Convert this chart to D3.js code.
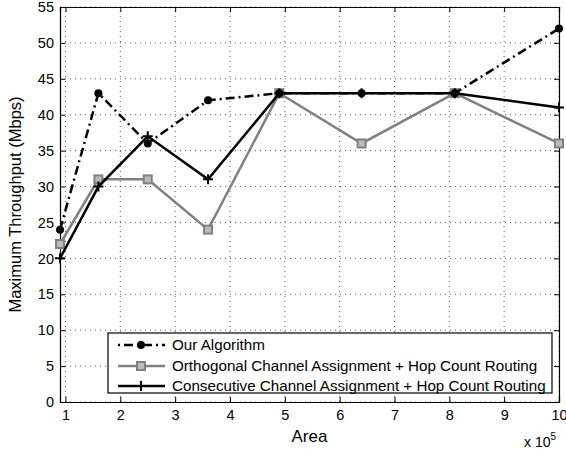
<!DOCTYPE html>
<html>
<head>
<meta charset="utf-8">
<script src="https://cdn.jsdelivr.net/npm/d3@7"></script>
<style>
  body { margin: 0; background: #fff; }
  text { font-family: "Liberation Sans", Arial, sans-serif; }
</style>
</head>
<body>
<div id="chart"></div>
<script>
// area values (x 10^5)
var areas = [0.9, 1.6, 2.5, 3.6, 4.9, 6.4, 8.1, 10];
var ourAlgorithm = [24, 43, 36, 42, 43, 43, 43, 52];
var orthogonal = [22, 31, 31, 24, 43, 36, 43, 36];
var consecutive = [20, 30, 37, 31, 43, 43, 43, 41];
var xTicks = [1, 2, 3, 4, 5, 6, 7, 8, 9, 10];
var yTicks = [0, 5, 10, 15, 20, 25, 30, 35, 40, 45, 50, 55];
var seriesNames = ["Our Algorithm",
    "Orthogonal Channel Assignment + Hop Count Routing",
    "Consecutive Channel Assignment + Hop Count Routing"];

var width = 566, height = 455;
var margin = {top: 7, left: 60, right: 7, bottom: 53};

var svg = d3.select("#chart").append("svg")
    .attr("width", width)
    .attr("height", height);

var x = d3.scaleLinear().domain([0.9, 10]).range([margin.left, width - margin.right]);
var y = d3.scaleLinear().domain([0, 55]).range([height - margin.bottom, margin.top]);

var x0 = x.range()[0], x1 = x.range()[1], y0 = y.range()[0], y1 = y.range()[1];

// dotted grid
var grid = svg.append("g");
grid.selectAll(".vg").data(xTicks).enter().append("line")
    .attr("x1", d => x(d)).attr("x2", d => x(d))
    .attr("y1", y0).attr("y2", y1)
    .style("stroke", "#333").style("stroke-width", 0.8)
    .style("stroke-dasharray", "1,4");
grid.selectAll(".hg").data(yTicks).enter().append("line")
    .attr("x1", x0).attr("x2", x1)
    .attr("y1", d => y(d)).attr("y2", d => y(d))
    .style("stroke", "#333").style("stroke-width", 0.8)
    .style("stroke-dasharray", "1,4");

// axes (ticks inward, on all four sides)
var tickLen = 5;
svg.append("g").attr("transform", "translate(0," + y0 + ")")
    .call(d3.axisBottom(x).tickValues(xTicks).tickSize(-tickLen).tickPadding(8).tickFormat(d3.format("d")));
svg.append("g").attr("transform", "translate(0," + y1 + ")")
    .call(d3.axisTop(x).tickValues(xTicks).tickSize(-tickLen).tickFormat(""));
svg.append("g").attr("transform", "translate(" + x0 + ",0)")
    .call(d3.axisLeft(y).tickValues(yTicks).tickSize(-tickLen).tickPadding(6));
svg.append("g").attr("transform", "translate(" + x1 + ",0)")
    .call(d3.axisRight(y).tickValues(yTicks).tickSize(-tickLen).tickFormat(""));

svg.selectAll(".domain").style("stroke", "#000").style("stroke-width", 1.2);
svg.selectAll(".tick line").style("stroke", "#000");
svg.selectAll(".tick text").style("font-size", "14.5px").style("fill", "#000")
    .style("font-family", "'Liberation Sans', Arial, sans-serif");

// series
var line = d3.line().x(d => x(d[0])).y(d => y(d[1]));
function pts(vals) { return areas.map((a, i) => [a, vals[i]]); }

var gData = svg.append("g");

// gray orthogonal
gData.append("path").datum(pts(orthogonal)).attr("d", line)
    .style("fill", "none").style("stroke", "#808080").style("stroke-width", 2.5);
gData.selectAll(".sq").data(pts(orthogonal)).enter().append("rect")
    .attr("x", d => x(d[0]) - 4).attr("y", d => y(d[1]) - 4)
    .attr("width", 8).attr("height", 8)
    .style("fill", "#bbb").style("stroke", "#808080").style("stroke-width", 2);

// black consecutive
gData.append("path").datum(pts(consecutive)).attr("d", line)
    .style("fill", "none").style("stroke", "#000").style("stroke-width", 2.5);
gData.selectAll(".plus").data(pts(consecutive)).enter().append("path")
    .attr("d", d => "M" + (x(d[0]) - 5) + "," + y(d[1]) + "h10M" + x(d[0]) + "," + (y(d[1]) - 5) + "v10")
    .style("stroke", "#000").style("stroke-width", 2);

// our algorithm, dash-dot
gData.append("path").datum(pts(ourAlgorithm)).attr("d", line)
    .style("fill", "none").style("stroke", "#000").style("stroke-width", 2.5)
    .style("stroke-dasharray", "9,4,2,4");
gData.selectAll(".dot").data(pts(ourAlgorithm)).enter().append("circle")
    .attr("cx", d => x(d[0])).attr("cy", d => y(d[1])).attr("r", 4)
    .style("fill", "#000");

// legend
var lg = svg.append("g");
lg.append("rect").attr("x", 108).attr("y", 333).attr("width", 444).attr("height", 60)
    .style("fill", "#fff").style("stroke", "#000").style("stroke-width", 1.2);
var rowY = [345, 366, 386];
rowY.forEach(function(ry, i) {
    var lx0 = 118, lx1 = 165, mx = 141;
    if (i === 0) {
        lg.append("line").attr("x1", lx0).attr("x2", lx1).attr("y1", ry).attr("y2", ry)
            .style("stroke", "#000").style("stroke-width", 2.5).style("stroke-dasharray", "2,4,9,4");
        lg.append("circle").attr("cx", mx).attr("cy", ry).attr("r", 4).style("fill", "#000");
    } else if (i === 1) {
        lg.append("line").attr("x1", lx0).attr("x2", lx1).attr("y1", ry).attr("y2", ry)
            .style("stroke", "#808080").style("stroke-width", 2.5);
        lg.append("rect").attr("x", mx - 4).attr("y", ry - 4).attr("width", 8).attr("height", 8)
            .style("fill", "#bbb").style("stroke", "#808080").style("stroke-width", 2);
    } else {
        lg.append("line").attr("x1", lx0).attr("x2", lx1).attr("y1", ry).attr("y2", ry)
            .style("stroke", "#000").style("stroke-width", 2.5);
        lg.append("path").attr("d", "M" + (mx - 5) + "," + ry + "h10M" + mx + "," + (ry - 5) + "v10")
            .style("stroke", "#000").style("stroke-width", 2);
    }
    lg.append("text").attr("x", 172).attr("y", ry + 5).text(seriesNames[i])
        .style("font-size", "15.2px");
});

// axis labels
svg.append("text").attr("x", (x0 + x1) / 2).attr("y", 442)
    .attr("text-anchor", "middle").style("font-size", "17px").text("Area");
svg.append("text")
    .attr("transform", "translate(21," + ((y0 + y1) / 2) + ") rotate(-90)")
    .attr("text-anchor", "middle").style("font-size", "16.5px").text("Maximum Throughput (Mbps)");
var ex = svg.append("text").attr("x", 524).attr("y", 447).style("font-size", "14px");
ex.append("tspan").text("x 10");
ex.append("tspan").attr("dy", -7).style("font-size", "10px").text("5");
</script>
</body>
</html>
